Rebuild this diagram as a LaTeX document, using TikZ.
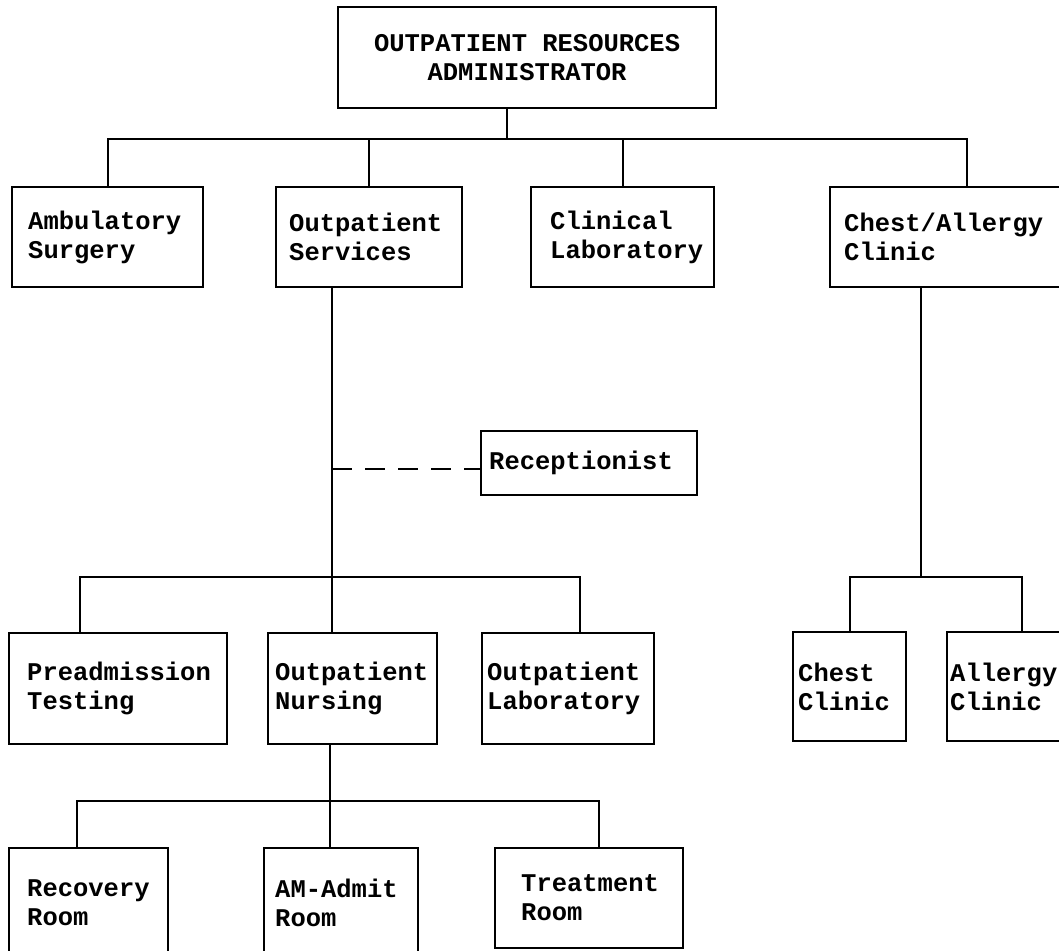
\documentclass[tikz,border=0pt]{standalone}
\usepackage{fontspec}
\newfontfamily\orgfont{Liberation Mono}
\usetikzlibrary{positioning}

\begin{document}
\begin{tikzpicture}[
    x=1pt, y=-1pt,
    unitbox/.style={draw, line width=2.2pt, anchor=north west, inner sep=0pt},
    tag/.style={align=left, inner sep=0pt, font=\orgfont\bfseries\fontsize{25.5pt}{29pt}\selectfont},
    link/.style={line width=2pt},
    dashlink/.style={line width=2pt, dash pattern=on 20pt off 13pt}
]
\useasboundingbox (0,0) rectangle (1059,950);
\clip (0,0) rectangle (1059,950);

% Top box
\node[unitbox, minimum width=378pt, minimum height=101pt] (admin) at (337,6) {};
\node[tag, align=center] (admin-t) at (admin.center) {OUTPATIENT RESOURCES\\ADMINISTRATOR};

% First level
\node[unitbox, minimum width=191pt, minimum height=100pt] (amb) at (11,186) {};
\node[tag, right=17pt of amb.west] (amb-t) {Ambulatory\\Surgery};

\node[unitbox, minimum width=186pt, minimum height=100pt] (opsvc) at (275,186) {};
\node[tag, right=14pt of opsvc.west] (opsvc-t) {Outpatient\\Services};

\node[unitbox, minimum width=183pt, minimum height=100pt] (clinlab) at (530,186) {};
\node[tag, right=20pt of clinlab.west] (clinlab-t) {Clinical\\Laboratory};

\node[unitbox, minimum width=274pt, minimum height=100pt] (chestall) at (829,186) {};
\node[tag, right=15pt of chestall.west] (chestall-t) {Chest/Allergy\\Clinic};

% Receptionist
\node[unitbox, minimum width=216pt, minimum height=64pt] (recep) at (480,430) {};
\node[tag, right=9pt of recep.west] (recep-t) {Receptionist};

% Second level
\node[unitbox, minimum width=218pt, minimum height=111pt] (preadm) at (8,632) {};
\node[tag, right=19pt of preadm.west] (preadm-t) {Preadmission\\Testing};

\node[unitbox, minimum width=169pt, minimum height=111pt] (opnurs) at (267,632) {};
\node[tag, right=8pt of opnurs.west] (opnurs-t) {Outpatient\\Nursing};

\node[unitbox, minimum width=172pt, minimum height=111pt] (oplab) at (481,632) {};
\node[tag, right=6pt of oplab.west] (oplab-t) {Outpatient\\Laboratory};

\node[unitbox, minimum width=113pt, minimum height=109pt] (chest) at (792,631) {};
\node[tag, right=6pt of chest.west] (chest-t) {Chest\\Clinic};

\node[unitbox, minimum width=150pt, minimum height=109pt] (allergy) at (946,631) {};
\node[tag, right=4pt of allergy.west] (allergy-t) {Allergy\\Clinic};

% Third level
\node[unitbox, minimum width=159pt, minimum height=110pt] (recov) at (8,847) {};
\node[tag, right=19pt of recov.west] (recov-t) {Recovery\\Room};

\node[unitbox, minimum width=154pt, minimum height=110pt] (amadmit) at (263,847) {};
\node[tag, right=12pt of amadmit.west] (amadmit-t) {AM-Admit\\Room};

\node[unitbox, minimum width=188pt, minimum height=100pt] (treat) at (494,847) {};
\node[tag, right=27pt of treat.west] (treat-t) {Treatment\\Room};

% Bus lines
\coordinate (bus1) at (507,139);
\coordinate (bus2) at (332,577);
\coordinate (b2l) at (80,577);
\coordinate (b2r) at (580,577);
\coordinate (tap) at (332,469);
\coordinate (bus4) at (921,577);
\coordinate (bus3) at (330,801);
\coordinate (b3l) at (77,801);
\coordinate (b3r) at (599,801);

% Connectors, top
\draw[link] (bus1 |- admin.south) -- (bus1);
\draw[link] (amb.north) |- (chestall.north |- bus1) -- (chestall.north);
\draw[link] (opsvc.north) -- (opsvc.north |- bus1);
\draw[link] (clinlab.north) -- (clinlab.north |- bus1);

% Connectors, outpatient services
\draw[link] (bus2 |- opsvc.south) -- (bus2);
\draw[dashlink] (tap) -- (tap -| recep.west);
\draw[link] (b2l |- preadm.north) -- (b2l) -- (b2r) -- (b2r |- oplab.north);
\draw[link] (bus2) -- (bus2 |- opnurs.north);

% Connectors, chest/allergy
\draw[link] (bus4 |- chestall.south) -- (bus4);
\draw[link] (chest.north) |- (allergy.north |- bus4) -- (allergy.north);

% Connectors, outpatient nursing
\draw[link] (bus3 |- opnurs.south) -- (bus3 |- amadmit.north);
\draw[link] (b3l |- recov.north) -- (b3l) -- (b3r) -- (b3r |- treat.north);

\end{tikzpicture}
\end{document}
